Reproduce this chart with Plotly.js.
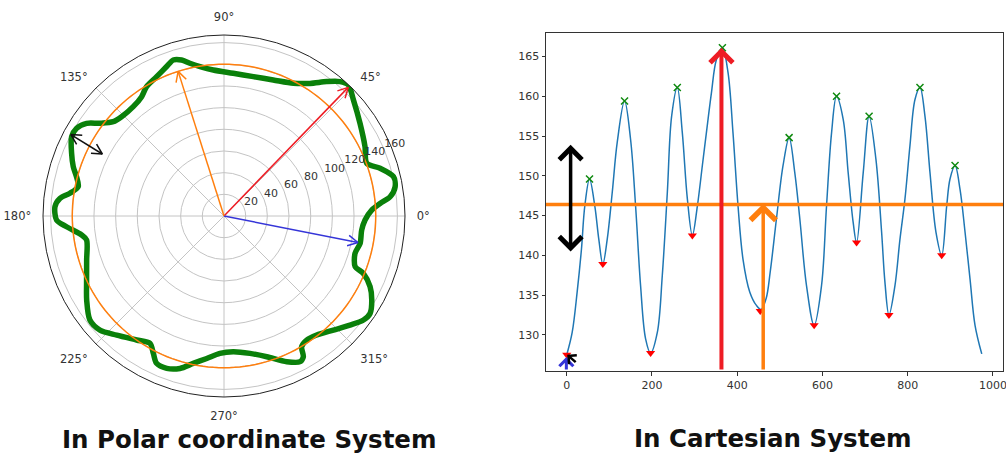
<!DOCTYPE html>
<html><head><meta charset="utf-8">
<script src="https://cdn.plot.ly/plotly-3.0.1.min.js"></script>
<style>html,body{margin:0;padding:0;background:#fff;} #chart{width:1006px;height:454px;}</style>
</head><body><div id="chart"></div>
<script>
// ---------- Polar panel data ----------
const polarTheta = [46.5,41.9,34.3,26.2,20.3,17.0,13.1,9.7,6.6,4.6,2.3,-1.6,-5.8,-11.4,-15.9,-21.1,-22.4,-25.8,-29.6,-33.7,-36.7,-40.9,-46.2,-52.1,-56.3,-59.3,-60.6,-62.4,-66.7,-73.1,-79.3,-86.1,-91.7,-96.9,-101.8,-106.1,-110.6,-114.6,-117.2,-120.2,-125.2,-132.0,-137.4,-142.2,-148.5,-153.9,-162.2,-170.1,-172.4,-176.1,-178.6,176.8,173.9,171.6,168.6,165.1,161.9,157.6,152.5,149.2,146.0,143.2,139.6,135.9,129.7,124.6,120.9,115.8,111.0,108.0,105.2,102.6,99.1,94.2,86.3,78.1,70.1,62.4,57.0,52.6,49.2,46.5];
const polarR = [166.7,160.4,151.9,145.0,140.4,150.6,160.5,160.2,154.3,144.5,136.4,130.2,127.7,128.1,125.7,129.7,139.1,149.7,156.8,162.0,160.5,153.8,145.8,139.2,137.6,140.3,149.1,151.7,146.4,135.7,129.0,125.5,126.8,132.4,138.9,146.4,150.2,149.5,142.6,135.9,140.0,147.9,155.5,156.6,148.6,141.2,133.1,128.7,132.5,145.6,154.5,156.2,152.3,143.7,137.2,140.8,146.3,152.1,158.5,158.3,152.9,142.9,134.2,131.6,131.1,133.8,139.1,142.8,147.7,151.4,149.2,144.4,139.6,135.1,132.0,131.4,133.5,138.2,145.9,156.1,163.8,166.7];
const polarMeanR = 140;
const radialMax = 167;
const radialTicks = [20,40,60,80,100,120,140,160];
const radialLabelAngle = 22.5;
const angleTicks = [0,45,90,135,180,225,270,315];
const angleLabels = ['0°','45°','90°','135°','180°','225°','270°','315°'];
// single arrows from the centre: [red, blue, orange]
const arrowTheta = [46, -11.2, 107.6];
const arrowR = [165, 126, 140];
// black double-headed arrow
const blackArrowTheta = [152, 153];
const blackArrowR = [160, 126];

// ---------- Cartesian panel data ----------
const curveX = [0,12.7,24.4,34.5,42.3,53.4,65.8,75.2,84.6,94.9,106.7,118.4,135.6,149.7,161.5,173.2,185.0,196.7,212.5,224.2,236.0,246.1,259.4,271.2,283.0,294.7,306.5,318.2,327.6,339.4,351.1,365.2,378.4,390.1,401.9,413.6,429.4,445.1,456.0,468.0,477.4,492.1,507.6,521.8,535.1,546.9,562.6,580.5,597.9,609.6,621.4,633.1,648.7,660.4,672.2,680.1,695.7,709.5,725.5,738.9,746.7,756.1,770.2,781.9,793.7,805.4,817.2,828.9,840.6,852.4,866.5,879.9,891.6,899.4,911.2,922.9,934.7,946.4,958.1,973.9];
const curveY = [127.5,130.3,135.4,140.8,146.2,149.6,146.2,142.0,138.9,142.0,147.9,154.2,159.4,154.6,146.2,136.2,129.5,127.7,130.3,137.5,147.9,157.5,161.1,155.4,147.1,142.5,146.2,151.3,155.4,160.4,164.6,166.1,163.0,155.4,146.2,139.5,135.4,133.7,133.2,134.6,137.9,144.6,151.3,154.8,150.4,144.6,136.2,131.2,136.2,146.2,155.4,160.0,157.1,150.4,144.1,141.6,150.4,157.5,152.1,142.9,136.6,132.5,136.2,142.0,147.1,153.8,159.6,161.1,157.5,150.4,142.9,140.0,146.2,149.6,151.3,148.3,142.9,137.0,131.2,127.6];
const peaksX = [53.4,135.6,259.4,365.2,521.8,633.1,709.5,828.9,911.2];
const peaksY = [149.6,159.4,161.1,166.1,154.8,160.0,157.5,161.1,151.3];
const troughsX = [0,84.6,196.7,294.7,454.0,580.5,680.1,756.1,879.9];
const troughsY = [127.5,138.9,127.7,142.5,133.0,131.2,141.6,132.5,140.0];
const meanLevel = 146.4;
const xRange = [-48.75, 1023.75];
const yRange = [125.45, 168.0];
const xTicks = [0,200,400,600,800,1000];
const yTicks = [130,135,140,145,150,155,160,165];
// cartesian arrows
const maxArrowX = 363, maxArrowY = 166.1;
const meanArrowX = 461, meanArrowY = 146.5;
const ampArrowX = 9, ampArrowY = [140.3, 153.9];
const startArrowX = -1, startArrowY = 127.2;
const smallArrowFrom = [24.4, 126.4], smallArrowTo = [1, 127.5];

const titles = ['In Polar coordinate System', 'In Cartesian System'];

// ---------- helpers ----------
const D2R = Math.PI/180;
function headPolar(t0, r0, t1, r1) {
  const x0 = r0*Math.cos(t0*D2R), y0 = r0*Math.sin(t0*D2R);
  const x1 = r1*Math.cos(t1*D2R), y1 = r1*Math.sin(t1*D2R);
  let dx = x1-x0, dy = y1-y0; const n = Math.hypot(dx,dy); dx/=n; dy/=n;
  const L = 10.5, a = 28*D2R;
  const pts = [];
  [a, null, -a].forEach(function(ang){
    if (ang === null) { pts.push([x1,y1]); return; }
    const rx = dx*Math.cos(ang) - dy*Math.sin(ang);
    const ry = dx*Math.sin(ang) + dy*Math.cos(ang);
    pts.push([x1 - L*rx, y1 - L*ry]);
  });
  return {r: pts.map(p=>Math.hypot(p[0],p[1])), theta: pts.map(p=>Math.atan2(p[1],p[0])/D2R)};
}

const circleTheta = [], circleR = [];
for (let t = 0; t <= 360; t += 2) { circleTheta.push(t); circleR.push(polarMeanR); }

const traces = [];
traces.push({type:'scatterpolar', mode:'lines', theta: polarTheta, r: polarR,
  line:{color:'#0a800a', width:5.5, shape:'spline', smoothing:0.8}, hoverinfo:'skip'});
traces.push({type:'scatterpolar', mode:'lines', theta: circleTheta, r: circleR,
  line:{color:'#ff7f0e', width:1.5}, hoverinfo:'skip'});
const arrowColors = ['#ee1c24', '#3535d8', '#ff7f0e'];
arrowTheta.forEach(function(t, i){
  traces.push({type:'scatterpolar', mode:'lines', theta:[t, t], r:[0, arrowR[i]],
    line:{color:arrowColors[i], width:1.5}, hoverinfo:'skip'});
  const h = headPolar(t, 0, t, arrowR[i]);
  traces.push({type:'scatterpolar', mode:'lines', theta:h.theta, r:h.r,
    line:{color:arrowColors[i], width:1.5}, hoverinfo:'skip'});
});
traces.push({type:'scatterpolar', mode:'lines', theta:blackArrowTheta, r:blackArrowR,
  line:{color:'#111', width:1.5}, hoverinfo:'skip'});
[[0,1],[1,0]].forEach(function(p){
  const h = headPolar(blackArrowTheta[p[0]], blackArrowR[p[0]], blackArrowTheta[p[1]], blackArrowR[p[1]]);
  traces.push({type:'scatterpolar', mode:'lines', theta:h.theta, r:h.r,
    line:{color:'#111', width:1.5}, hoverinfo:'skip'});
});
// radial tick labels (matplotlib style: left/bottom anchored at 22.5 deg)
traces.push({type:'scatterpolar', mode:'text', theta: radialTicks.map(()=>radialLabelAngle), r: radialTicks,
  text: radialTicks.map(String), textposition:'top right',
  textfont:{family:'DejaVu Sans', size:11, color:'#333'}, hoverinfo:'skip'});

// cartesian
traces.push({type:'scatter', mode:'lines', x:curveX, y:curveY, xaxis:'x', yaxis:'y',
  line:{color:'#1f77b4', width:1.5, shape:'spline', smoothing:1}, hoverinfo:'skip'});
traces.push({type:'scatter', mode:'markers', x:peaksX, y:peaksY, xaxis:'x', yaxis:'y',
  marker:{symbol:'x-thin', size:7, line:{color:'#108a10', width:1.5}}, hoverinfo:'skip'});
traces.push({type:'scatter', mode:'markers', x:troughsX, y:troughsY, xaxis:'x', yaxis:'y',
  marker:{symbol:'triangle-down', size:8, color:'#ff0000'}, hoverinfo:'skip'});

const fontTick = {family:'DejaVu Sans', size:11, color:'#333'};
function arrowAnn(x, y, ax, ay, color, width, size, side) {
  return {x:x, y:y, ax:ax, ay:ay, xref:'x', yref:'y', axref:'x', ayref:'y', text:'',
    showarrow:true, arrowhead:4, startarrowhead:4, arrowside: side || 'end',
    arrowcolor:color, arrowwidth:width, arrowsize:size, startarrowsize:size, standoff:0, startstandoff:0};
}
const annotations = [
  arrowAnn(maxArrowX, maxArrowY, maxArrowX, yRange[0], '#ee1c24', 4, 1.1),
  arrowAnn(meanArrowX, meanArrowY, meanArrowX, yRange[0], '#ff7f0e', 3.5, 1.4),
  arrowAnn(ampArrowX, ampArrowY[1], ampArrowX, ampArrowY[0], '#000', 3.5, 1.25, 'end+start'),
  arrowAnn(startArrowX, startArrowY, startArrowX, yRange[0], '#3535d8', 3, 0.9),
  arrowAnn(smallArrowTo[0], smallArrowTo[1], smallArrowFrom[0], smallArrowFrom[1], '#000', 2.5, 0.9),
  {xref:'paper', yref:'paper', x:249/1006, y:0.031, xanchor:'center', yanchor:'middle', showarrow:false,
   text:'<b>'+titles[0]+'</b>', font:{family:'DejaVu Sans', size:24.5, color:'#111'}},
  {xref:'paper', yref:'paper', x:773/1006, y:0.034, xanchor:'center', yanchor:'middle', showarrow:false,
   text:'<b>'+titles[1]+'</b>', font:{family:'DejaVu Sans', size:24.5, color:'#111'}}
];

const layout = {
  width:1006, height:454, margin:{l:0,r:0,t:0,b:0}, paper_bgcolor:'#fff', plot_bgcolor:'#fff',
  showlegend:false,
  polar:{
    domain:{x:[43/1006, 405/1006], y:[1-397/454, 1-35/454]},
    bgcolor:'#fff',
    radialaxis:{range:[0, radialMax], tickmode:'array', tickvals:radialTicks, angle:radialLabelAngle,
      showticklabels:false, showline:false, ticks:'', gridcolor:'#c4c4c4', gridwidth:1},
    angularaxis:{tickmode:'array', tickvals:angleTicks, ticktext:angleLabels, linecolor:'#222', linewidth:1,
      gridcolor:'#c4c4c4', gridwidth:1, ticks:'outside', ticklen:9, tickcolor:'rgba(0,0,0,0)',
      tickfont:{family:'DejaVu Sans', size:11.5, color:'#333'}}
  },
  xaxis:{domain:[546/1006, 1003/1006], range:xRange, tickmode:'array', tickvals:xTicks, ticks:'outside', ticklen:3.5,
    tickcolor:'#333', showline:true, mirror:true, linecolor:'#333', linewidth:1, showgrid:false, zeroline:false,
    tickfont:fontTick, anchor:'y', ticklabeloverflow:'allow'},
  yaxis:{domain:[1-371/454, 1-32.7/454], range:yRange, tickmode:'array', tickvals:yTicks, ticks:'outside', ticklen:3.5,
    tickcolor:'#333', showline:true, mirror:true, linecolor:'#333', linewidth:1, showgrid:false, zeroline:false,
    tickfont:fontTick, anchor:'x'},
  shapes:[{type:'line', xref:'x domain', yref:'y', x0:0, x1:1, y0:meanLevel, y1:meanLevel,
    line:{color:'#ff7f0e', width:3.5}}],
  annotations: annotations
};
Plotly.newPlot('chart', traces, layout, {staticPlot:true, displayModeBar:false});
</script></body></html>
